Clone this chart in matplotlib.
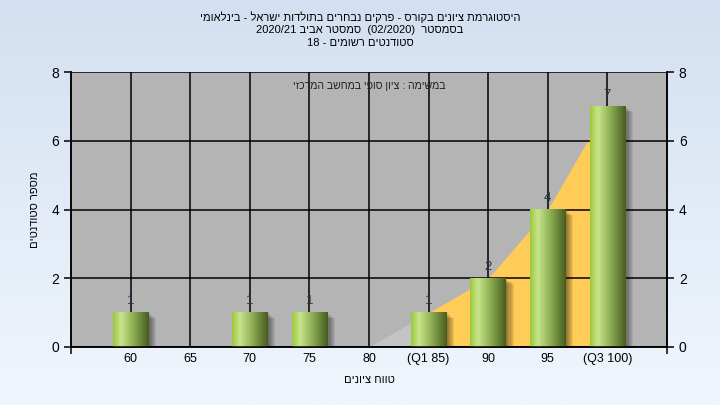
import numpy as np
import matplotlib
matplotlib.use('Agg')
import matplotlib.pyplot as plt
import matplotlib.transforms as mtransforms
from matplotlib.patches import Rectangle
from matplotlib.colors import LinearSegmentedColormap

# grade histogram data
categories = ['60', '65', '70', '75', '80', '(Q1 85)', '90', '95', '(Q3 100)']
counts = [1, 0, 1, 1, 0, 1, 2, 4, 7]
area_start = 4   # index where the background area starts
q1_idx = 5
q3_idx = 8

title_main = 'היסטוגרמת ציונים בקורס - פרקים נבחרים בתולדות ישראל - בינלאומי'
title_sem_word = 'בסמסטר'
title_sem_code = '(02/2020)'
title_sem_name = 'סמסטר אביב'
title_year = '2020/21'
title_students = 'סטודנטים רשומים'
n_students = 18
task_text = 'במשימה : ציון סופי במחשב המרכזי'
xlabel = 'טווח ציונים'
ylabel = 'מספר סטודנטים'


def heb(s):
    # matplotlib draws left to right, so flip hebrew into visual order
    return s[::-1]


plt.rcParams['font.family'] = ['Liberation Sans', 'DejaVu Sans']

fig = plt.figure(figsize=(7.2, 4.05), dpi=100)

# background gradient
bg = fig.add_axes([0, 0, 1, 1], zorder=-10)
bg_cmap = LinearSegmentedColormap.from_list('bg', ['#d3e0f1', '#f0f6fd'])
bg.imshow(np.linspace(0, 1, 256).reshape(-1, 1), aspect='auto', cmap=bg_cmap,
          extent=[0, 1, 0, 1], origin='upper')
bg.axis('off')

ax = fig.add_axes([71 / 720, 1 - 347 / 405, 596 / 720, 275 / 405])
ax.set_facecolor('#b4b4b4')
x = np.arange(len(categories))

# area behind the bars: grey up to Q1, yellow between Q1 and Q3
ax.fill_between(x[area_start:q1_idx + 1], 0, counts[area_start:q1_idx + 1],
                color='#c4c4c4', lw=0, zorder=1)
ax.fill_between(x[q1_idx:q3_idx + 1], 0, counts[q1_idx:q3_idx + 1],
                color='#ffcc58', lw=0, zorder=1)

bar_cmap = LinearSegmentedColormap.from_list(
    'bar', [(0, '#9cc83c'), (0.22, '#c8e48c'), (0.55, '#90b256'), (1, '#475c20')])
grad = np.linspace(0, 1, 128).reshape(1, -1)
w = 0.6

for xi, v in zip(x, counts):
    if v == 0:
        continue
    # soft drop shadow
    for d in range(1, 8):
        off = ax.transData + mtransforms.ScaledTranslation(d * 0.8 / 72, -d * 0.6 / 72,
                                                           fig.dpi_scale_trans)
        ax.add_patch(Rectangle((xi - w / 2, 0), w, v, color='black', alpha=0.07,
                               lw=0, transform=off, zorder=2.5))
    ax.imshow(grad, aspect='auto', cmap=bar_cmap,
              extent=[xi - w / 2, xi + w / 2, 0, v], zorder=3)
    ax.annotate(str(v), (xi, v), xytext=(0, 4), textcoords='offset points',
                ha='center', va='bottom', fontsize=9.5, color='#253548', zorder=4)

ax.set_xlim(-1, len(categories))
ax.set_ylim(0, 8)
ax.set_xticks(x, categories)
ax.set_xticks([-1, len(categories)], minor=True)
ax.set_yticks(range(0, 9, 2))
ax.set_axisbelow('line')
ax.grid(True, color='black', lw=1.1)
ax.tick_params(axis='x', which='major', length=0, labelsize=9, pad=4)
ax.tick_params(axis='x', which='minor', length=5, width=1.1)
ax.tick_params(axis='y', length=5, width=1.1, labelsize=10)
for s in ax.spines.values():
    s.set_linewidth(1.1)
ax.spines['top'].set_visible(False)

ax2 = ax.twinx()
ax2.set_ylim(0, 8)
ax2.set_yticks(range(0, 9, 2))
ax2.tick_params(axis='y', length=5, width=1.1, labelsize=10)
for s in ax2.spines.values():
    s.set_linewidth(1.1)
ax2.spines['top'].set_visible(False)

ax.text(0.5, 0.95, heb(task_text), transform=ax.transAxes, ha='center',
        va='center', fontsize=7.6, color='#222222')

# titles
line2 = title_year + ' ' + heb(title_sem_name) + '  ' + title_sem_code + '  ' + heb(title_sem_word)
line3 = str(n_students) + ' - ' + heb(title_students)
for txt, ypx in [(heb(title_main), 17), (line2, 30), (line3, 43)]:
    fig.text(0.5, 1 - ypx / 405, txt, ha='center', va='center', fontsize=8)

fig.text(35 / 720, 1 - 210 / 405, heb(ylabel), rotation=90, ha='center',
         va='center', fontsize=8)
fig.text(369 / 720, 1 - 380 / 405, heb(xlabel), ha='center', va='center',
         fontsize=8)

fig.savefig('out.png', dpi=100)
